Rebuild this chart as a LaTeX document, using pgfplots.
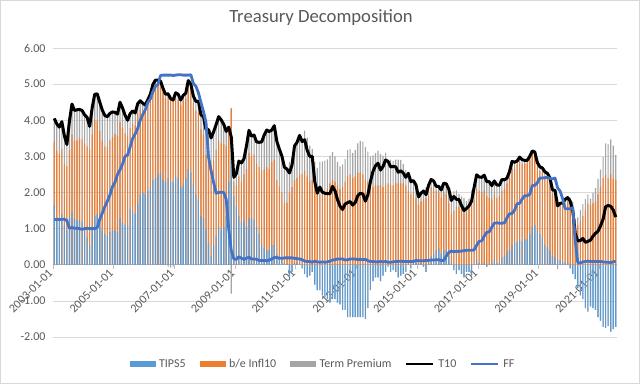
\documentclass[border=0pt]{standalone}
\usepackage{fontspec}
\setmainfont{Carlito}
\usepackage{pgfplots}
\pgfplotsset{compat=1.18}
\usepackage{pgfplotstable}
\definecolor{tipsblue}{HTML}{5B9BD5}
\definecolor{beorange}{HTML}{ED7D31}
\definecolor{tpgray}{HTML}{A5A5A5}
\definecolor{ffblue}{HTML}{4472C4}
\definecolor{txtgray}{HTML}{595959}
\definecolor{gridgray}{HTML}{D9D9D9}
\definecolor{axgray}{HTML}{BFBFBF}

% monthly, 2003-01 ... 2021-07 ; tips = TIPS5, be = b/e Infl10, t10 = T10, ff = FF
% Term Premium = t10 - tips - be
\pgfplotstableread{
tips be t10 ff
1.65 1.75 4.05 1.24
1.30 1.85 3.90 1.26
1.28 1.78 3.81 1.25
1.40 1.81 3.96 1.26
1.10 1.67 3.57 1.26
0.95 1.78 3.33 1.22
1.30 1.88 3.98 1.01
1.45 2.15 4.45 1.03
1.28 2.14 4.27 1.01
1.22 2.22 4.29 1.01
1.25 2.25 4.30 1.00
1.20 2.27 4.27 0.98
0.95 2.40 4.15 1.00
0.75 2.53 4.08 1.01
0.53 2.65 3.83 1.00
1.05 2.55 4.35 1.00
1.35 2.65 4.72 1.00
1.40 2.58 4.73 1.03
1.15 2.55 4.50 1.26
0.95 2.48 4.28 1.43
0.85 2.43 4.13 1.61
0.80 2.45 4.10 1.76
0.90 2.54 4.19 1.93
0.95 2.58 4.23 2.16
0.95 2.67 4.22 2.28
0.90 2.67 4.17 2.50
1.30 2.65 4.50 2.63
1.15 2.64 4.34 2.79
1.10 2.54 4.14 3.00
1.10 2.45 4.00 3.04
1.55 2.23 4.18 3.26
1.50 2.41 4.26 3.50
1.40 2.45 4.20 3.62
1.70 2.46 4.46 3.78
1.95 2.34 4.54 4.00
2.00 2.22 4.47 4.16
1.95 2.27 4.42 4.29
2.05 2.37 4.57 4.49
2.15 2.42 4.72 4.59
2.35 2.49 4.99 4.79
2.40 2.61 5.11 4.94
2.50 2.51 5.11 4.99
2.55 2.44 5.09 5.24
2.35 2.43 4.88 5.25
2.30 2.32 4.72 5.25
2.40 2.38 4.73 5.25
2.30 2.38 4.60 5.25
2.30 2.31 4.56 5.24
2.45 2.16 4.76 5.25
2.40 2.17 4.72 5.26
2.15 2.26 4.56 5.26
2.20 2.34 4.69 5.25
2.40 2.20 4.75 5.25
2.65 2.30 5.10 5.25
2.55 2.30 5.00 5.26
2.25 2.22 4.67 5.02
1.95 2.32 4.52 4.94
1.80 2.43 4.53 4.76
1.35 2.40 4.15 4.49
1.30 2.30 4.10 4.24
0.95 2.09 3.74 3.94
0.60 2.29 3.74 2.98
0.25 2.36 3.51 2.61
0.55 2.33 3.68 2.28
0.80 2.38 3.88 1.98
1.05 2.40 4.10 2.00
0.95 2.41 4.01 2.01
1.05 2.29 3.89 2.00
1.35 1.94 3.69 1.81
2.30 1.40 3.81 0.97
3.40 0.93 3.53 0.39
1.90 0.40 2.42 0.16
1.60 0.60 2.52 0.15
1.35 1.10 2.87 0.22
1.20 1.10 2.82 0.18
1.20 1.30 2.93 0.15
1.05 1.60 3.29 0.18
1.30 1.80 3.72 0.21
1.30 1.70 3.56 0.16
1.25 1.80 3.59 0.16
1.05 1.75 3.40 0.15
0.85 1.85 3.39 0.12
0.55 2.05 3.40 0.12
0.45 2.20 3.59 0.12
0.40 2.30 3.73 0.11
0.40 2.25 3.69 0.13
0.55 2.30 3.73 0.16
0.55 2.35 3.85 0.20
0.30 2.05 3.42 0.20
0.25 1.90 3.20 0.18
0.20 1.80 3.01 0.18
0.05 1.65 2.70 0.19
0.02 1.70 2.65 0.19
-0.30 2.00 2.54 0.19
-0.20 2.15 2.76 0.19
0.05 2.30 3.29 0.18
0.05 2.35 3.39 0.17
0.05 2.45 3.58 0.16
-0.10 2.50 3.41 0.14
-0.25 2.60 3.46 0.10
-0.35 2.45 3.17 0.09
-0.30 2.30 3.00 0.09
-0.20 2.35 3.00 0.07
-0.55 2.10 2.30 0.10
-0.70 1.95 1.98 0.08
-0.70 1.95 2.15 0.07
-0.85 1.95 2.01 0.08
-0.90 1.95 1.98 0.07
-0.95 2.10 1.97 0.08
-1.05 2.25 1.97 0.10
-0.95 2.35 2.17 0.13
-0.95 2.30 2.05 0.14
-1.05 2.20 1.80 0.16
-1.10 2.10 1.62 0.16
-1.25 2.15 1.53 0.16
-1.25 2.30 1.68 0.13
-1.45 2.45 1.72 0.14
-1.45 2.50 1.75 0.16
-1.45 2.40 1.65 0.16
-1.45 2.45 1.72 0.16
-1.45 2.55 1.91 0.14
-1.45 2.55 1.98 0.15
-1.45 2.50 1.96 0.14
-1.50 2.35 1.76 0.15
-1.20 2.30 1.93 0.11
-0.70 2.10 2.30 0.09
-0.45 2.15 2.58 0.09
-0.35 2.20 2.74 0.08
-0.35 2.20 2.81 0.08
-0.45 2.20 2.62 0.09
-0.30 2.15 2.72 0.08
-0.20 2.20 2.90 0.09
-0.05 2.25 2.86 0.07
-0.20 2.20 2.71 0.07
-0.15 2.20 2.72 0.08
-0.20 2.25 2.71 0.09
-0.35 2.25 2.56 0.09
-0.30 2.25 2.60 0.10
-0.25 2.25 2.54 0.09
-0.20 2.20 2.42 0.09
0.00 2.05 2.53 0.09
-0.10 1.95 2.30 0.09
0.10 1.90 2.33 0.09
0.15 1.70 2.21 0.12
0.05 1.60 1.88 0.11
0.05 1.70 1.98 0.11
-0.05 1.80 2.04 0.11
-0.20 1.85 1.94 0.12
0.05 1.85 2.20 0.12
0.25 1.90 2.36 0.13
0.30 1.80 2.32 0.13
0.40 1.65 2.17 0.14
0.45 1.55 2.17 0.14
0.30 1.55 2.07 0.12
0.40 1.60 2.26 0.12
0.40 1.55 2.24 0.24
0.25 1.45 2.09 0.34
0.05 1.35 1.78 0.38
-0.15 1.50 1.89 0.36
-0.25 1.60 1.81 0.37
-0.15 1.60 1.81 0.37
-0.25 1.55 1.64 0.38
-0.35 1.45 1.50 0.39
-0.20 1.45 1.56 0.40
-0.20 1.55 1.63 0.40
-0.30 1.65 1.76 0.40
0.00 1.80 2.14 0.41
0.15 1.95 2.49 0.54
0.05 2.00 2.43 0.65
0.00 2.00 2.42 0.66
0.05 2.00 2.48 0.79
-0.05 1.90 2.30 0.90
0.00 1.85 2.30 0.91
0.05 1.75 2.19 1.04
0.15 1.80 2.32 1.15
0.05 1.80 2.21 1.16
0.05 1.85 2.20 1.15
0.20 1.85 2.36 1.15
0.25 1.85 2.35 1.16
0.35 1.90 2.40 1.30
0.40 2.00 2.58 1.41
0.55 2.10 2.86 1.42
0.60 2.05 2.84 1.51
0.65 2.15 2.87 1.69
0.70 2.15 2.98 1.70
0.65 2.15 2.91 1.82
0.70 2.10 2.89 1.91
0.70 2.10 2.89 1.91
0.85 2.15 3.00 1.95
1.05 2.10 3.15 2.19
1.10 1.95 3.12 2.20
0.95 1.75 2.83 2.27
0.85 1.75 2.71 2.40
0.72 1.85 2.68 2.40
0.55 1.85 2.57 2.41
0.48 1.90 2.53 2.42
0.40 1.85 2.40 2.39
0.25 1.70 2.07 2.38
0.20 1.70 2.06 2.40
0.15 1.60 1.63 2.13
0.12 1.55 1.70 2.04
0.08 1.55 1.71 1.83
0.08 1.60 1.81 1.55
0.05 1.70 1.86 1.55
-0.10 1.75 1.76 1.55
-0.25 1.60 1.50 1.58
-0.40 1.00 0.87 0.65
-0.65 1.10 0.66 0.05
-0.85 1.20 0.67 0.05
-0.95 1.35 0.73 0.08
-1.20 1.50 0.62 0.09
-1.30 1.70 0.65 0.10
-1.15 1.65 0.68 0.09
-1.20 1.70 0.79 0.09
-1.25 1.75 0.87 0.09
-1.45 1.95 0.93 0.09
-1.55 2.15 1.08 0.09
-1.72 2.40 1.26 0.08
-1.75 2.48 1.61 0.07
-1.70 2.40 1.64 0.07
-1.85 2.50 1.62 0.06
-1.78 2.38 1.52 0.08
-1.72 2.35 1.32 0.10
}\datatable

\begin{document}
\begin{tikzpicture}[x=1pt,y=1pt]
\useasboundingbox (0,0) rectangle (640,384);
\fill[white] (0,0) rectangle (640,384);
\draw[gridgray, line width=0.75pt] (0.5,0.5) rectangle (639.5,383.5);
\node[font=\fontsize{18.67}{22}\selectfont, text=txtgray] at (321,366) {Treasury Decomposition};
\begin{axis}[
  at={(53pt,47pt)}, anchor=south west,
  scale only axis, width=564pt, height=289pt,
  xmin=-0.5, xmax=222.5, ymin=-2, ymax=6,
  axis x line*=middle, axis y line*=left,
  hide obscured x ticks=false, hide obscured y ticks=false,
  y axis line style={draw=none},
  x axis line style={draw=axgray, line width=0.75pt},
  ytick={-2,-1,0,1,2,3,4,5,6},
  ymajorgrids, major grid style={draw=gridgray, line width=0.75pt},
  ytick style={draw=none},
  xtick={-0.5,23.5,47.5,71.5,95.5,119.5,143.5,167.5,191.5,215.5},
  xticklabels={2003-01-01,2005-01-01,2007-01-01,2009-01-01,2011-01-01,2013-01-01,2015-01-01,2017-01-01,2019-01-01,2021-01-01},
  xtick style={draw=axgray, line width=0.75pt},
  tick align=outside, major tick length=4pt,
  /pgf/number format/assume math mode=true,
  xticklabel style={rotate=45, anchor=east, font=\fontsize{12}{14}\selectfont, text=txtgray},
  yticklabel style={font=\fontsize{12}{14}\selectfont, text=txtgray, /pgf/number format/.cd, fixed, fixed zerofill, precision=2},
  legend columns=5,
  legend cell align=left,
  legend style={at={(0.477,-0.0934)}, anchor=center, draw=none, fill=none,
    font=\fontsize{12}{14}\selectfont, text=txtgray,
    nodes={inner xsep=0pt, inner ysep=1pt},
    /tikz/every odd column/.append style={column sep=4pt},
    /tikz/every even column/.append style={column sep=14pt}},
]
% positive stack (gray total, orange, blue) and negative stack
\addplot[ybar, bar width=0.45, bar shift=0pt, fill=tpgray, draw=none, forget plot]
  table[x expr=\coordindex, y expr={max(\thisrow{tips},0)+\thisrow{be}+max(\thisrow{t10}-\thisrow{tips}-\thisrow{be},0)}] {\datatable};
\addplot[ybar, bar width=0.45, bar shift=0pt, fill=beorange, draw=none, forget plot]
  table[x expr=\coordindex, y expr={max(\thisrow{tips},0)+\thisrow{be}}] {\datatable};
\addplot[ybar, bar width=0.45, bar shift=0pt, fill=tipsblue, draw=none, forget plot]
  table[x expr=\coordindex, y expr={max(\thisrow{tips},0)}] {\datatable};
\addplot[ybar, bar width=0.45, bar shift=0pt, fill=tpgray, draw=none, forget plot]
  table[x expr=\coordindex, y expr={min(\thisrow{tips},0)+min(\thisrow{t10}-\thisrow{tips}-\thisrow{be},0)}] {\datatable};
\addplot[ybar, bar width=0.45, bar shift=0pt, fill=tipsblue, draw=none, forget plot]
  table[x expr=\coordindex, y expr={min(\thisrow{tips},0)}] {\datatable};
\addplot[black, line width=3pt, line join=round, forget plot]
  table[x expr=\coordindex, y=t10] {\datatable};
\addplot[ffblue, line width=2.8pt, line join=round, forget plot]
  table[x expr=\coordindex, y=ff] {\datatable};
\addlegendimage{legend image code/.code={\fill[tipsblue] (0pt,-2.5pt) rectangle (25pt,2.5pt);}}
\addlegendentry{TIPS5}
\addlegendimage{legend image code/.code={\fill[beorange] (0pt,-2.5pt) rectangle (25pt,2.5pt);}}
\addlegendentry{b/e Infl10}
\addlegendimage{legend image code/.code={\fill[tpgray] (0pt,-2.5pt) rectangle (25pt,2.5pt);}}
\addlegendentry{Term Premium}
\addlegendimage{legend image code/.code={\draw[black, line width=2pt] (0pt,0pt) -- (27pt,0pt);}}
\addlegendentry{T10}
\addlegendimage{legend image code/.code={\draw[ffblue, line width=2pt] (0pt,0pt) -- (27pt,0pt);}}
\addlegendentry{FF}
\end{axis}
\end{tikzpicture}
\end{document}
